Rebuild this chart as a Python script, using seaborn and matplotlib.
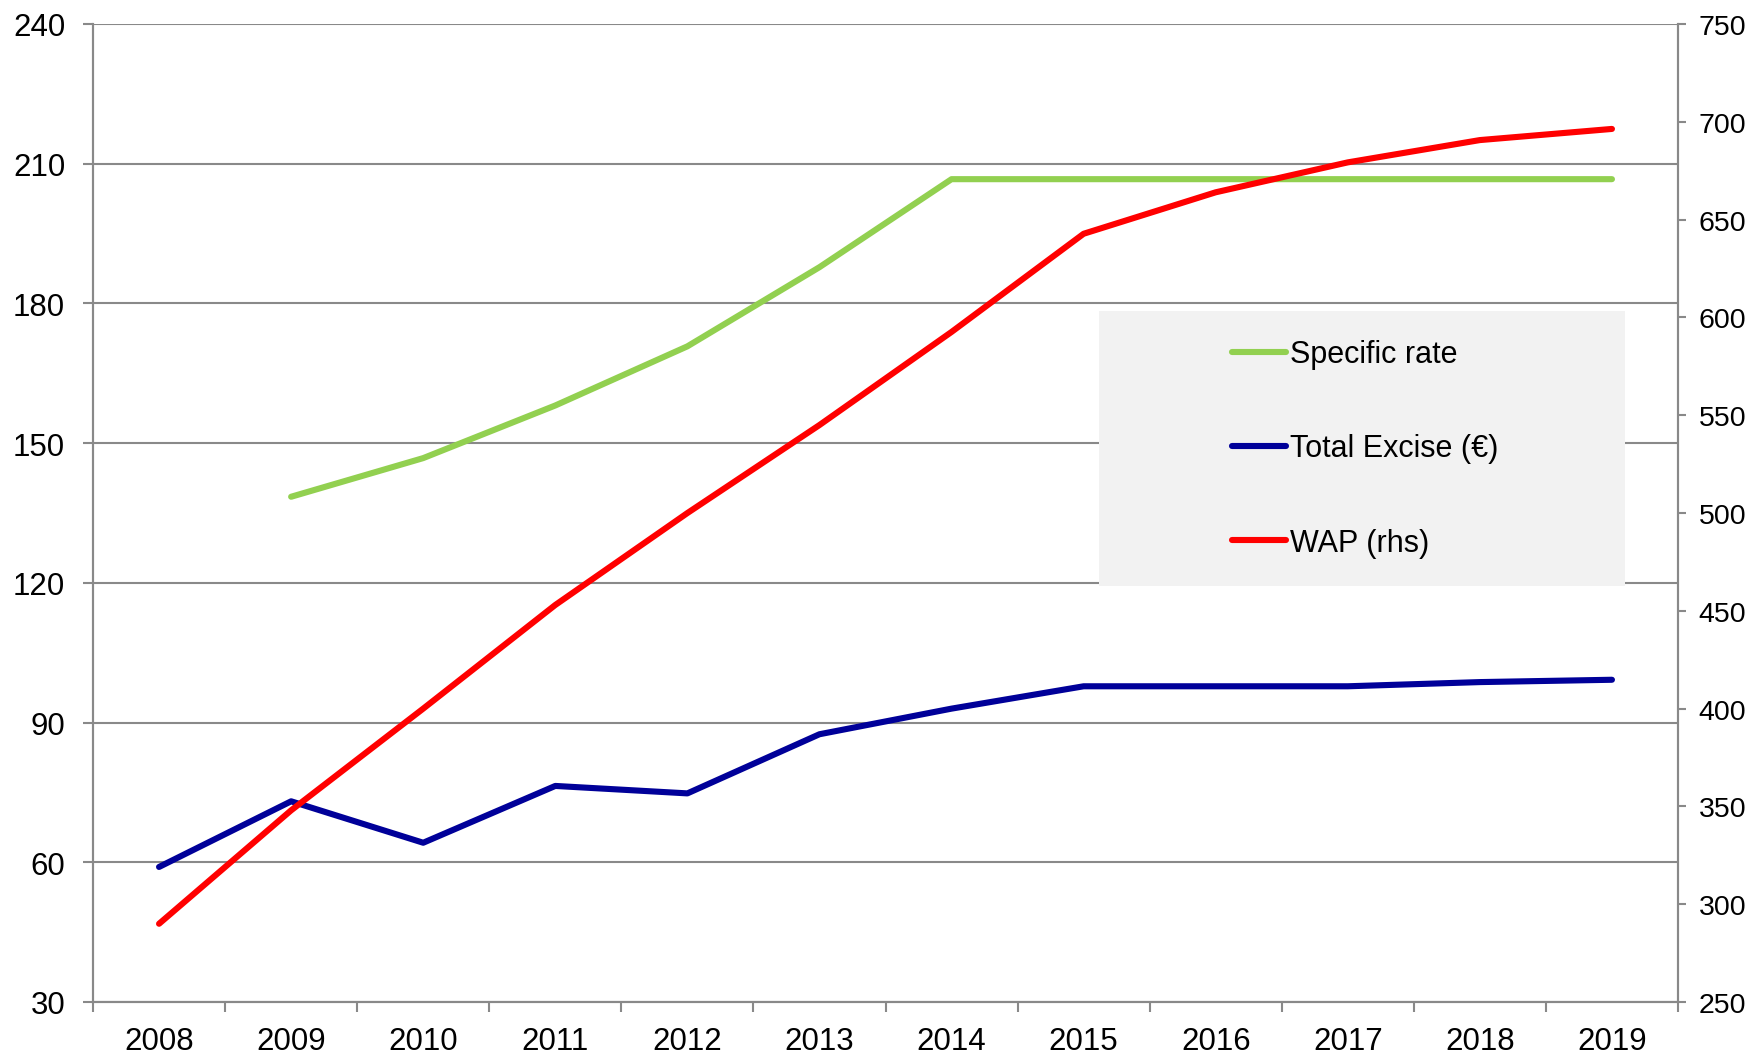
import matplotlib
matplotlib.use('Agg')
import matplotlib.pyplot as plt
import numpy as np
import pandas as pd
import seaborn as sns
from matplotlib.patches import Rectangle
from matplotlib.ticker import FixedLocator

# data
years = [2008, 2009, 2010, 2011, 2012, 2013, 2014, 2015, 2016, 2017, 2018, 2019]
specific_rate = [np.nan, 138.5, 146.8, 158.1, 170.8, 187.8, 206.7, 206.7, 206.7, 206.7, 206.7, 206.7]
total_excise = [59.0, 73.1, 64.2, 76.4, 74.8, 87.5, 93.0, 97.8, 97.8, 97.8, 98.7, 99.2]
wap = [290, 348, 400, 453, 500, 545, 592.6, 642.8, 664, 679.3, 690.7, 696.4]

sns.set_theme(style='white')
plt.rcParams['font.family'] = ['Liberation Sans', 'DejaVu Sans']
plt.rcParams['text.color'] = 'black'
plt.rcParams['xtick.labelcolor'] = 'black'
plt.rcParams['ytick.labelcolor'] = 'black'

grey = '#898989'
green = '#92D050'
navy = '#000099'
red = '#FF0000'

df_left = pd.DataFrame({
    'year': years * 2,
    'value': specific_rate + total_excise,
    'series': ['Specific rate'] * 12 + ['Total Excise (€)'] * 12,
})
df_right = pd.DataFrame({'year': years, 'value': wap, 'series': 'WAP (rhs)'})

fig = plt.figure(figsize=(17.48, 10.559), dpi=100)
ax = fig.add_axes([93 / 1748, 1 - 1003 / 1056, (1678 - 93) / 1748, (1003 - 25) / 1056])
ax2 = ax.twinx()

lw = 4.4
sns.lineplot(data=df_left, x='year', y='value', hue='series',
             palette=[green, navy], linewidth=lw, ax=ax, legend=False)
sns.lineplot(data=df_right, x='year', y='value', color=red,
             linewidth=lw, ax=ax2, legend=False)
for ln in ax.lines + ax2.lines:
    ln.set_solid_capstyle('round')

ax.set_xlim(2007.5, 2019.5)
ax.set_ylim(30, 240)
ax.set_yticks(range(30, 241, 30))
ax2.set_ylim(250, 750)
ax2.set_yticks(range(250, 751, 50))

ax.set_xticks(years)
ax.xaxis.set_minor_locator(FixedLocator([y - 0.5 for y in years] + [2019.5]))
ax.tick_params(axis='x', which='major', length=0, pad=17, labelsize=22.5, labelcolor='black')
ax.tick_params(axis='x', which='minor', length=7, width=1.5, color=grey, bottom=True)
ax.tick_params(axis='y', length=7, width=1.5, color=grey, pad=13, labelsize=22.5,
               left=True, labelcolor='black')
ax2.tick_params(axis='y', length=6, width=1.5, color=grey, pad=9, labelsize=20.5,
                right=True, labelcolor='black')

ax.set_xlabel('')
ax.set_ylabel('')
ax2.set_ylabel('')

ax.yaxis.grid(True, color=grey, linewidth=1.5)
ax.set_axisbelow(True)
for a in (ax, ax2):
    a.spines['top'].set_visible(False)
    for s in ('left', 'right', 'bottom'):
        a.spines[s].set_color(grey)
        a.spines[s].set_linewidth(1.5)

# legend panel
bx0, bx1, by0, by1 = 1099, 1625, 312, 587
box = Rectangle((bx0 / 1748, 1 - by1 / 1056), (bx1 - bx0) / 1748, (by1 - by0) / 1056,
                transform=fig.transFigure, facecolor='#F2F2F2', edgecolor='none', zorder=5)
ax2.add_patch(box)
box.set_clip_on(False)

handles = [plt.Line2D([], [], color=c, linewidth=lw, solid_capstyle='round')
           for c in (green, navy, red)]
leg = ax2.legend(handles, ['Specific rate', 'Total Excise (€)', 'WAP (rhs)'],
                 loc='center', bbox_to_anchor=((bx0 + bx1) / 2 / 1748 + 0.002, 1 - (by0 + by1) / 2 / 1056),
                 bbox_transform=fig.transFigure, frameon=False, fontsize=22,
                 handlelength=1.75, handletextpad=0.15, labelspacing=2.1)
for t in leg.get_texts():
    t.set_color('black')
leg.set_zorder(6)

fig.savefig('out.png', dpi=100)
